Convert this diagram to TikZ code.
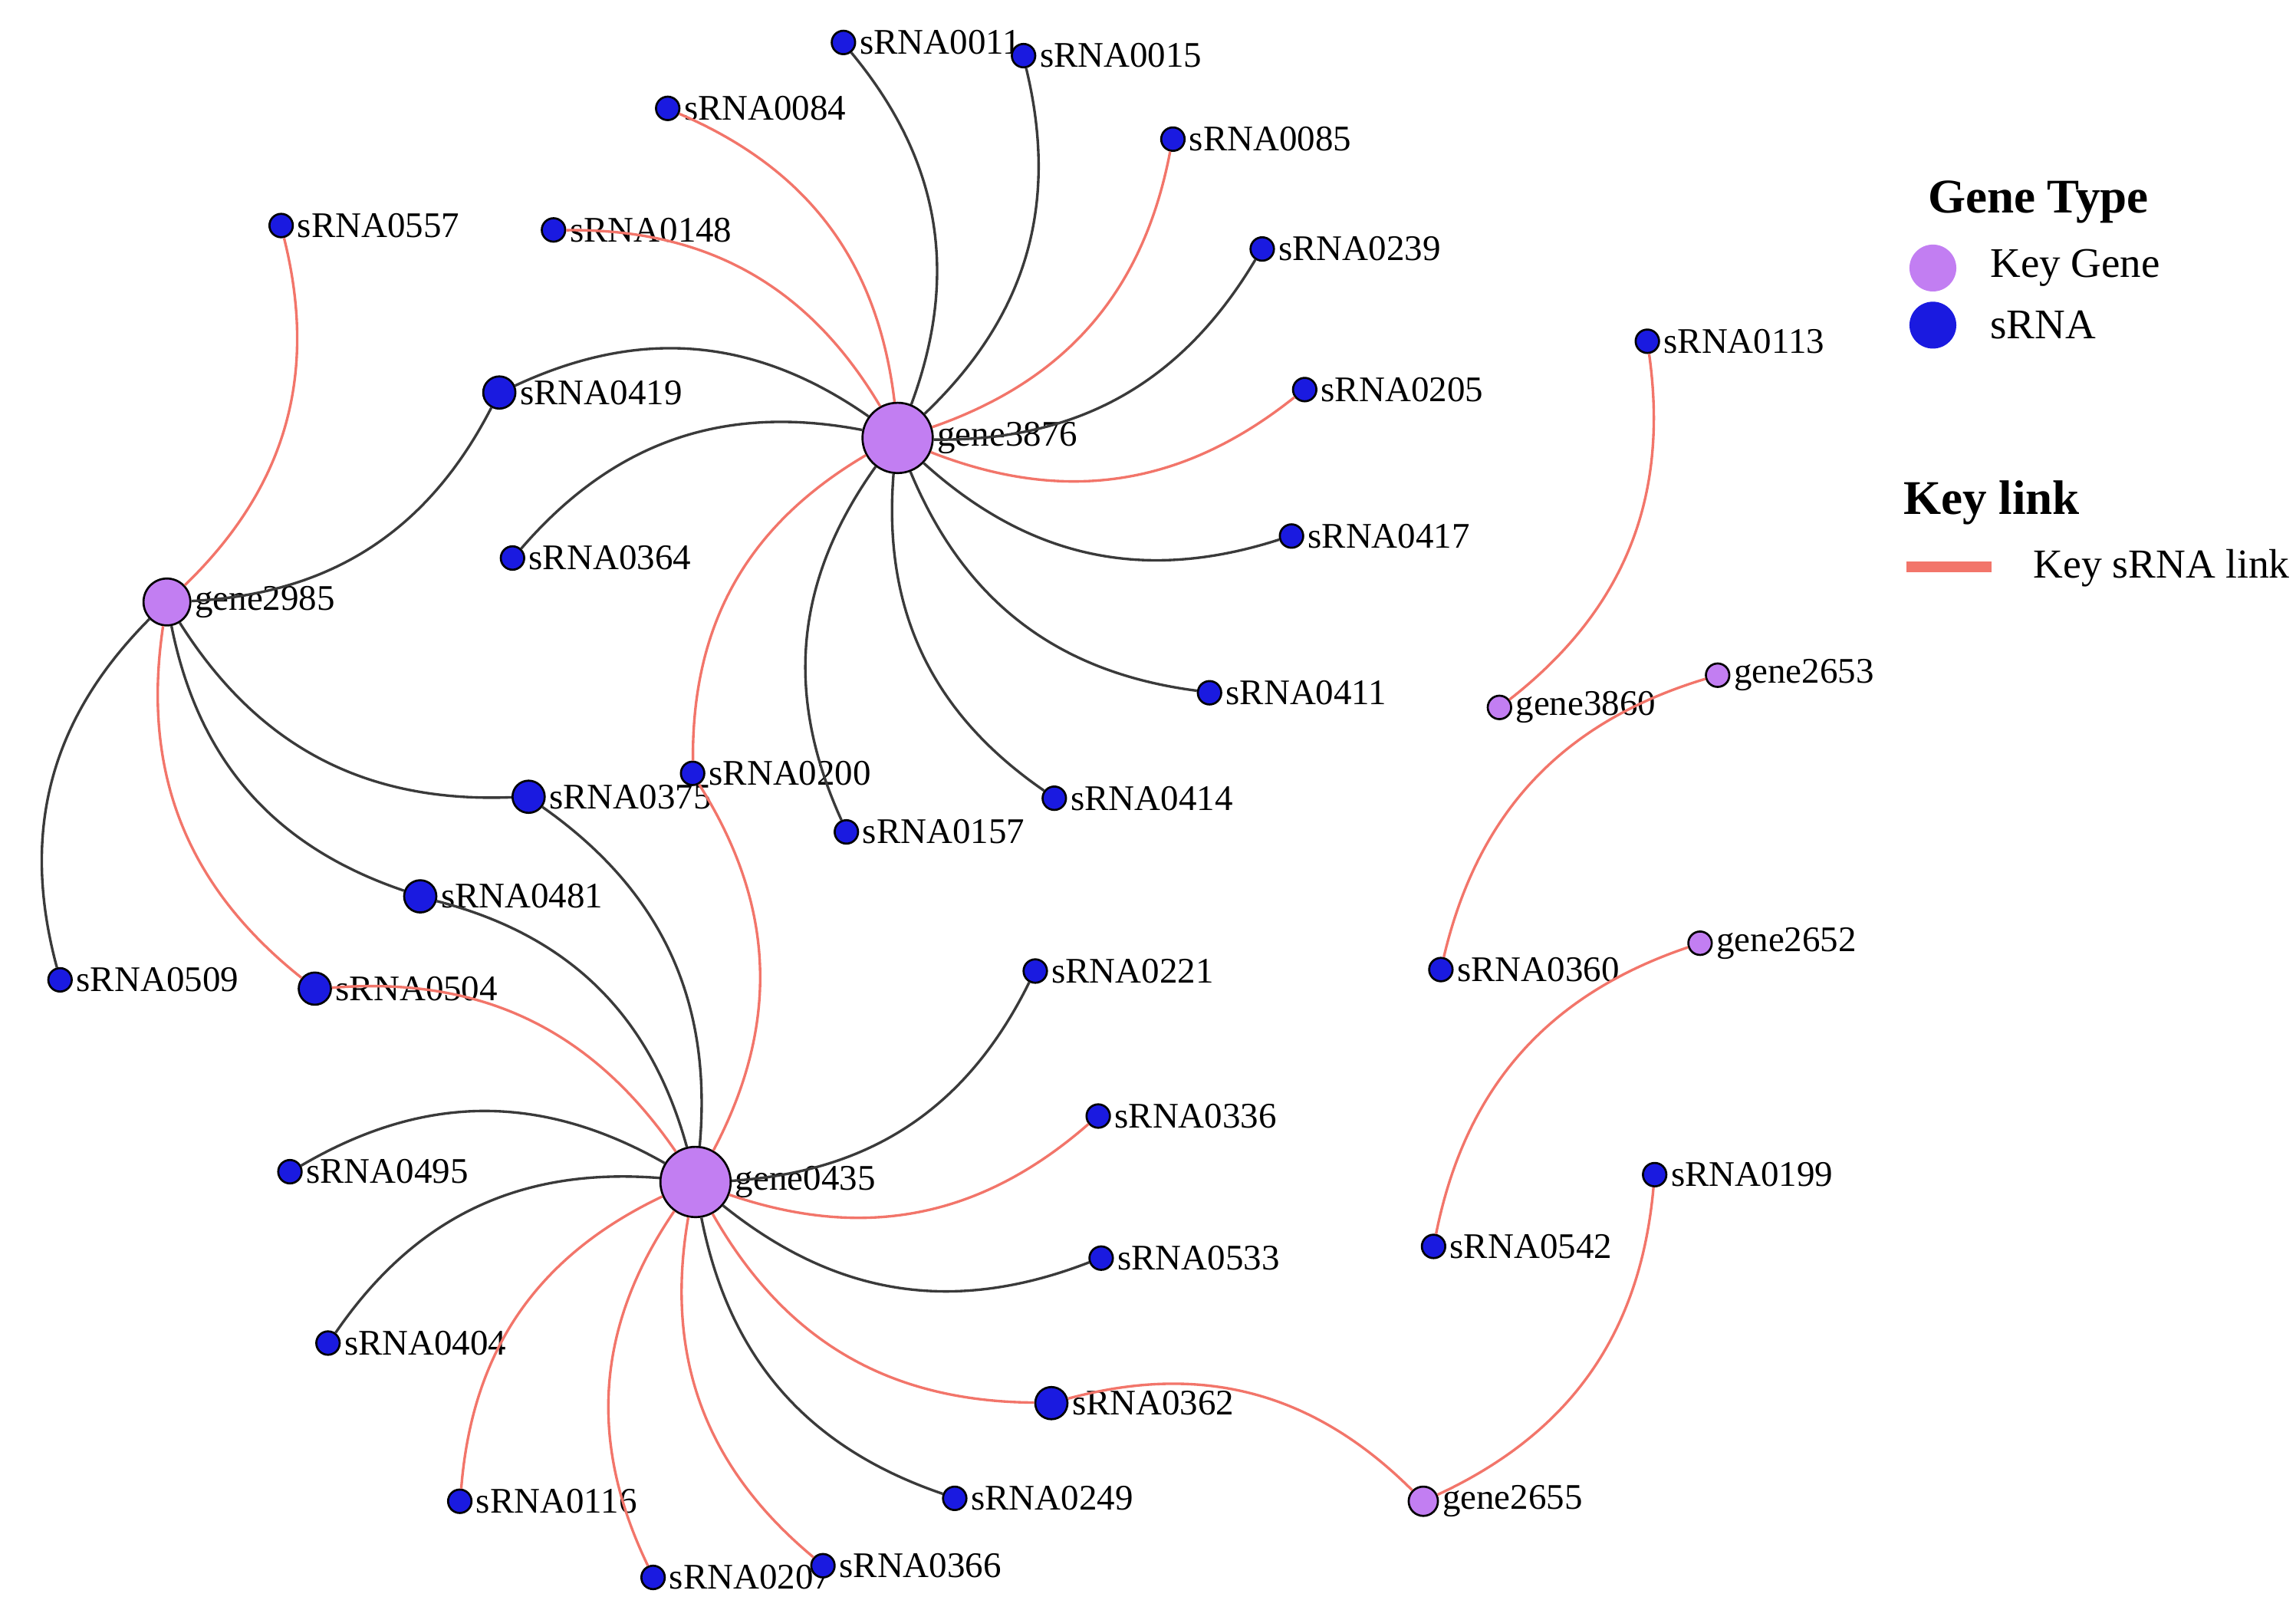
\documentclass[tikz,border=0pt]{standalone}
\usepackage{fontspec}
\setmainfont{Liberation Serif}
\definecolor{keygene}{HTML}{C27EF2}
\definecolor{srnablue}{HTML}{1A1AE0}
\definecolor{keyred}{HTML}{F2756A}
\definecolor{plainlink}{HTML}{3A3A3A}
\begin{document}
\begin{tikzpicture}[font=\fontsize{7.0}{8.5}\selectfont, every label/.style={inner sep=0.5pt}]
  \tikzstyle{srna} = [circle, draw=black, fill=srnablue, inner sep=0, minimum size=0.16cm, label distance=0.02cm]
  \tikzstyle{bigsrna} = [srna, minimum size=0.22cm, label distance=0cm]
  \tikzstyle{gene} = [circle, draw=black, fill=keygene, inner sep=0, minimum size=0.16cm, label distance=0.02cm]
  \tikzstyle{hub} = [gene, minimum size=0.48cm, label distance=-0.1cm]
  \tikzstyle{link} = [plainlink, line width=0.5pt, bend right=30]
  \tikzstyle{key} = [keyred, line width=0.5pt, bend right=30]

  \useasboundingbox (0,0) rectangle (15.68,-11.06);

  \node[hub, label = {right:gene3876}] (g3876) at (6.13,-2.99) {};
  \node[hub, minimum size=0.32cm, label distance=-0.04cm, label = {right:gene2985}] (g2985) at (1.14,-4.11) {};
  \node[hub, label = {right:gene0435}] (g0435) at (4.75,-8.07) {};
  \node[gene, label = {right:gene3860}] (g3860) at (10.24,-4.83) {};
  \node[gene, label = {right:gene2653}] (g2653) at (11.73,-4.61) {};
  \node[gene, label = {right:gene2652}] (g2652) at (11.61,-6.44) {};
  \node[gene, minimum size=0.2cm, label distance=0cm, label = {right:gene2655}] (g2655) at (9.72,-10.25) {};

  \node[srna, label = {right:sRNA0011}] (s0011) at (5.76,-0.29) {};
  \node[srna, label = {right:sRNA0015}] (s0015) at (6.99,-0.38) {};
  \node[srna, label = {right:sRNA0084}] (s0084) at (4.56,-0.74) {};
  \node[srna, label = {right:sRNA0085}] (s0085) at (8.01,-0.95) {};
  \node[srna, label = {right:sRNA0557}] (s0557) at (1.92,-1.54) {};
  \node[srna, label = {right:sRNA0148}] (s0148) at (3.78,-1.57) {};
  \node[srna, label = {right:sRNA0239}] (s0239) at (8.62,-1.70) {};
  \node[srna, label = {right:sRNA0113}] (s0113) at (11.25,-2.33) {};
  \node[srna, label = {right:sRNA0205}] (s0205) at (8.91,-2.66) {};
  \node[bigsrna, label = {right:sRNA0419}] (s0419) at (3.41,-2.68) {};
  \node[srna, label = {right:sRNA0364}] (s0364) at (3.50,-3.81) {};
  \node[srna, label = {right:sRNA0417}] (s0417) at (8.82,-3.66) {};
  \node[srna, label = {right:sRNA0411}] (s0411) at (8.26,-4.73) {};
  \node[srna, label = {right:sRNA0200}] (s0200) at (4.73,-5.28) {};
  \node[bigsrna, label = {right:sRNA0375}] (s0375) at (3.61,-5.44) {};
  \node[srna, label = {right:sRNA0414}] (s0414) at (7.20,-5.45) {};
  \node[srna, label = {right:sRNA0157}] (s0157) at (5.78,-5.68) {};
  \node[bigsrna, label = {right:sRNA0481}] (s0481) at (2.87,-6.12) {};
  \node[srna, label = {right:sRNA0509}] (s0509) at (0.41,-6.69) {};
  \node[bigsrna, label = {right:sRNA0504}] (s0504) at (2.15,-6.75) {};
  \node[srna, label = {right:sRNA0221}] (s0221) at (7.07,-6.63) {};
  \node[srna, label = {right:sRNA0360}] (s0360) at (9.84,-6.62) {};
  \node[srna, label = {right:sRNA0336}] (s0336) at (7.50,-7.62) {};
  \node[srna, label = {right:sRNA0495}] (s0495) at (1.98,-8.00) {};
  \node[srna, label = {right:sRNA0199}] (s0199) at (11.30,-8.02) {};
  \node[srna, label = {right:sRNA0542}] (s0542) at (9.79,-8.51) {};
  \node[srna, label = {right:sRNA0533}] (s0533) at (7.52,-8.59) {};
  \node[srna, label = {right:sRNA0404}] (s0404) at (2.24,-9.17) {};
  \node[bigsrna, label = {right:sRNA0362}] (s0362) at (7.18,-9.58) {};
  \node[srna, label = {right:sRNA0116}] (s0116) at (3.14,-10.25) {};
  \node[srna, label = {right:sRNA0249}] (s0249) at (6.52,-10.23) {};
  \node[srna, label = {right:sRNA0207}] (s0207) at (4.46,-10.77) {};
  \node[srna, label = {right:sRNA0366}] (s0366) at (5.62,-10.69) {};

  % gene3876
  \draw[link] (g3876) to (s0011);
  \draw[link] (g3876) to (s0015);
  \draw[key] (g3876) to (s0084);
  \draw[key] (g3876) to (s0085);
  \draw[key] (g3876) to (s0148);
  \draw[link] (g3876) to (s0239);
  \draw[key] (g3876) to (s0205);
  \draw[link] (g3876) to (s0417);
  \draw[link] (g3876) to (s0411);
  \draw[link] (g3876) to (s0414);
  \draw[link] (g3876) to (s0157);
  \draw[key] (g3876) to (s0200);
  \draw[link] (g3876) to (s0364);
  \draw[link] (g3876) to (s0419);

  % gene2985
  \draw[key] (g2985) to (s0557);
  \draw[link] (g2985) to (s0419);
  \draw[link] (g2985) to (s0375);
  \draw[link] (g2985) to (s0481);
  \draw[key] (g2985) to (s0504);
  \draw[link] (g2985) to (s0509);

  % gene0435
  \draw[link] (g0435) to (s0375);
  \draw[key] (g0435) to (s0200);
  \draw[link] (g0435) to (s0481);
  \draw[key] (g0435) to (s0504);
  \draw[link] (g0435) to (s0495);
  \draw[link] (g0435) to (s0404);
  \draw[key] (g0435) to (s0116);
  \draw[key] (g0435) to (s0207);
  \draw[key] (g0435) to (s0366);
  \draw[link] (g0435) to (s0249);
  \draw[key] (g0435) to (s0362);
  \draw[link] (g0435) to (s0533);
  \draw[key] (g0435) to (s0336);
  \draw[link] (g0435) to (s0221);

  % small pairs
  \draw[key] (g2655) to (s0362);
  \draw[key] (g2655) to (s0199);
  \draw[key] (g3860) to (s0113);
  \draw[key] (g2653) to (s0360);
  \draw[key] (g2652) to (s0542);

  % legend
  \node[font=\fontsize{9.4}{11}\selectfont\bfseries] (typetitle) at (13.92,-1.38) {Gene Type};
  \node[circle, fill=keygene, inner sep=0, minimum size=0.32cm, label = {[label distance=0.2cm]right:\fontsize{8.2}{10}\selectfont Key Gene}] (legkey) at (13.20,-1.83) {};
  \node[circle, fill=srnablue, inner sep=0, minimum size=0.32cm, label = {[label distance=0.2cm]right:\fontsize{8.2}{10}\selectfont sRNA}] (legsrna) at (13.20,-2.22) {};
  \node[font=\fontsize{9.4}{11}\selectfont\bfseries] (linktitle) at (13.60,-3.43) {Key link};
  \coordinate (lineA) at (13.02,-3.87);
  \coordinate (lineB) at (13.60,-3.87);
  \draw[keyred, line width=2.2pt] (lineA) -- (lineB);
  \node[anchor=west, inner sep=0, font=\fontsize{8.0}{10}\selectfont] (linktext) at (13.88,-3.88) {Key sRNA link};
\end{tikzpicture}
\end{document}
